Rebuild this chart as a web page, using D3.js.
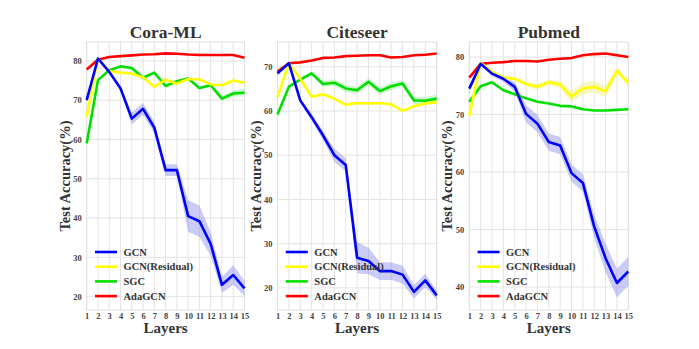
<!DOCTYPE html>
<html>
<head>
<meta charset="utf-8">
<script src="https://cdn.jsdelivr.net/npm/d3@7"></script>
<style>
  body { margin: 0; background: #fff; }
  text { font-family: "Liberation Serif", "Times New Roman", serif; font-weight: bold; }
</style>
</head>
<body>
<div id="chart"></div>
<script>
// layers on the x axis
var layers = [1, 2, 3, 4, 5, 6, 7, 8, 9, 10, 11, 12, 13, 14, 15];
var seriesNames = ["GCN", "GCN(Residual)", "SGC", "AdaGCN"];
var datasets = ["Cora-ML", "Citeseer", "Pubmed"];

// Cora-ML
var coraGCN      = [70.0, 80.6, 77.2, 73.0, 65.3, 67.8, 63.0, 52.2, 52.2, 40.5, 39.2, 33.4, 23.0, 25.5, 22.1];
var coraGCNStd   = [0.5, 0.3, 0.5, 0.8, 1.5, 1.5, 1.5, 1.5, 1.5, 4.0, 4.0, 3.0, 2.0, 2.5, 2.0];
var coraRes      = [65.8, 80.6, 77.4, 77.0, 76.8, 75.8, 73.4, 75.2, 74.2, 75.4, 75.3, 74.0, 73.8, 75.0, 74.4];
var coraSGC      = [59.0, 75.1, 77.6, 78.6, 78.2, 75.7, 77.0, 73.6, 74.8, 75.5, 73.1, 73.8, 70.4, 71.7, 71.9];
var coraSGCStd   = [0.3, 0.3, 0.3, 0.3, 0.3, 0.3, 0.3, 0.4, 0.4, 0.4, 0.4, 0.4, 0.6, 0.8, 1.0];
var coraAda      = [77.8, 80.3, 81.0, 81.2, 81.4, 81.6, 81.7, 81.9, 81.8, 81.6, 81.5, 81.5, 81.5, 81.5, 80.8];

// Citeseer
var citeGCN      = [68.5, 70.8, 62.4, 58.6, 54.5, 50.0, 47.8, 26.8, 26.1, 23.8, 23.8, 23.0, 19.1, 21.7, 18.3];
var citeGCNStd   = [0.5, 0.3, 0.5, 0.8, 1.0, 1.5, 1.5, 3.5, 3.0, 2.0, 2.0, 2.0, 1.5, 1.5, 1.0];
var citeRes      = [63.2, 70.8, 67.3, 63.2, 63.8, 62.8, 61.4, 61.8, 61.7, 61.8, 61.5, 60.0, 61.1, 61.7, 62.0];
var citeSGC      = [59.2, 65.5, 67.1, 68.5, 66.1, 66.4, 65.1, 64.7, 66.6, 64.5, 65.6, 66.2, 62.4, 62.3, 62.8];
var citeSGCStd   = [0.3, 0.3, 0.3, 0.4, 0.6, 0.8, 0.8, 0.8, 0.8, 0.8, 0.8, 0.8, 0.8, 0.8, 1.0];
var citeAda      = [68.9, 70.8, 71.0, 71.4, 72.0, 72.1, 72.4, 72.5, 72.6, 72.6, 72.1, 72.2, 72.6, 72.7, 73.0];

// Pubmed
var pubGCN       = [74.5, 78.8, 77.1, 76.2, 74.8, 70.1, 68.4, 65.2, 64.6, 59.8, 58.1, 50.5, 45.0, 40.7, 42.7];
var pubGCNStd    = [0.5, 0.3, 0.4, 0.5, 0.8, 1.5, 1.5, 1.5, 1.5, 1.5, 1.5, 2.0, 2.5, 2.5, 2.5];
var pubRes       = [69.8, 79.0, 77.4, 76.4, 76.2, 75.3, 74.8, 75.6, 75.2, 73.1, 74.5, 74.8, 74.0, 77.6, 75.5];
var pubResStd    = [0.5, 0.3, 0.3, 0.3, 0.3, 0.4, 0.5, 0.5, 0.6, 1.0, 1.0, 1.0, 1.0, 0.5, 0.5];
var pubSGC       = [72.2, 74.9, 75.6, 74.2, 73.5, 72.8, 72.2, 71.9, 71.5, 71.4, 70.9, 70.7, 70.7, 70.8, 70.9];
var pubAda       = [76.4, 78.8, 79.0, 79.1, 79.3, 79.3, 79.2, 79.5, 79.7, 79.8, 80.3, 80.5, 80.6, 80.3, 80.0];

var yTicks = [[20, 30, 40, 50, 60, 70, 80], [20, 30, 40, 50, 60, 70], [40, 50, 60, 70, 80]];
var yDomains = [[16.6, 84.8], [15, 75.6], [36, 82.6]];

var colors = ["#0000ff", "#ffff00", "#00e000", "#ff0000"];

var panels = [
  { title: datasets[0], x0: 86.7, x1: 244.5, series: [coraGCN, coraRes, coraSGC, coraAda], std: [coraGCNStd, null, coraSGCStd, null] },
  { title: datasets[1], x0: 277.5, x1: 436.7, series: [citeGCN, citeRes, citeSGC, citeAda], std: [citeGCNStd, null, citeSGCStd, null] },
  { title: datasets[2], x0: 469.3, x1: 628.3, series: [pubGCN, pubRes, pubSGC, pubAda], std: [pubGCNStd, pubResStd, null, null] }
];

var svgWidth = 699, svgHeight = 349;
var plotTop = 42, plotBottom = 310;

var svg = d3.select("#chart").append("svg")
  .attr("width", svgWidth)
  .attr("height", svgHeight);

panels.forEach(function(p, pi) {
  var x = d3.scaleLinear().domain([1, 15]).range([p.x0, p.x1]);
  var y = d3.scaleLinear().domain(yDomains[pi]).range([plotBottom, plotTop]);
  var g = svg.append("g");

  // grid
  g.selectAll(".vgrid").data(layers).enter().append("line")
    .attr("x1", d => x(d)).attr("x2", d => x(d))
    .attr("y1", plotTop).attr("y2", plotBottom)
    .attr("stroke", "#e4e4e4").attr("stroke-width", 1);
  g.selectAll(".hgrid").data(yTicks[pi]).enter().append("line")
    .attr("x1", p.x0).attr("x2", p.x1)
    .attr("y1", d => y(d)).attr("y2", d => y(d))
    .attr("stroke", "#e4e4e4").attr("stroke-width", 1);
  g.append("rect")
    .attr("x", p.x0).attr("y", plotTop)
    .attr("width", p.x1 - p.x0).attr("height", plotBottom - plotTop)
    .attr("fill", "none").attr("stroke", "#e0e0e0");

  // axes (ticks only as labels)
  var xAxis = g.append("g")
    .attr("transform", `translate(0, ${plotBottom})`)
    .call(d3.axisBottom(x).tickValues(layers).tickSize(0).tickPadding(3));
  xAxis.select(".domain").remove();
  xAxis.selectAll("text").attr("font-size", 8.5).attr("fill", "#444")
    .attr("font-family", "Liberation Serif, serif").attr("font-weight", "bold");

  var yAxis = g.append("g")
    .attr("transform", `translate(${p.x0}, 0)`)
    .call(d3.axisLeft(y).tickValues(yTicks[pi]).tickSize(0).tickPadding(5));
  yAxis.select(".domain").remove();
  yAxis.selectAll("text").attr("font-size", 8.5).attr("fill", "#444")
    .attr("font-family", "Liberation Serif, serif").attr("font-weight", "bold");

  // bands
  var area = d3.area()
    .x((d, i) => x(layers[i]))
    .y0(d => y(d[0] - d[1]))
    .y1(d => y(d[0] + d[1]));
  p.std.forEach(function(s, si) {
    if (!s) return;
    var pts = p.series[si].map((v, i) => [v, s[i]]);
    g.append("path").datum(pts)
      .attr("d", area)
      .attr("fill", si === 1 ? "#f2f2a0" : (si === 2 ? "#a8f0a8" : "#8c8cf0"))
      .attr("opacity", si === 0 ? 0.45 : 0.6);
  });

  // lines (draw order: red, green, yellow, blue on top)
  var line = d3.line().x((d, i) => x(layers[i])).y(d => y(d));
  [3, 2, 1, 0].forEach(function(si) {
    g.append("path").datum(p.series[si])
      .attr("d", line)
      .attr("fill", "none")
      .attr("stroke", colors[si])
      .attr("stroke-width", 2.6)
      .attr("stroke-linejoin", "round");
  });

  // title
  g.append("text")
    .attr("x", (p.x0 + p.x1) / 2).attr("y", 38)
    .attr("text-anchor", "middle")
    .attr("font-size", 17.5).attr("fill", "#333")
    .text(p.title);

  // x label
  g.append("text")
    .attr("x", (p.x0 + p.x1) / 2).attr("y", 333)
    .attr("text-anchor", "middle")
    .attr("font-size", 15).attr("fill", "#333")
    .text("Layers");

  // y label
  g.append("text")
    .attr("transform", `translate(${p.x0 - 17}, 176) rotate(-90)`)
    .attr("text-anchor", "middle")
    .attr("font-size", 14.5).attr("fill", "#333")
    .text("Test Accuracy(%)");

  // legend
  var legend = g.append("g").attr("transform", `translate(${p.x0 + 8.3}, 252)`);
  seriesNames.forEach(function(name, si) {
    legend.append("line")
      .attr("x1", 0).attr("x2", 22)
      .attr("y1", si * 14.7).attr("y2", si * 14.7)
      .attr("stroke", colors[si]).attr("stroke-width", 2.6);
    legend.append("text")
      .attr("x", 28.5).attr("y", si * 14.7 + 3.5)
      .attr("font-size", 10.5).attr("fill", "#333")
      .text(name);
  });
});
</script>
</body>
</html>
